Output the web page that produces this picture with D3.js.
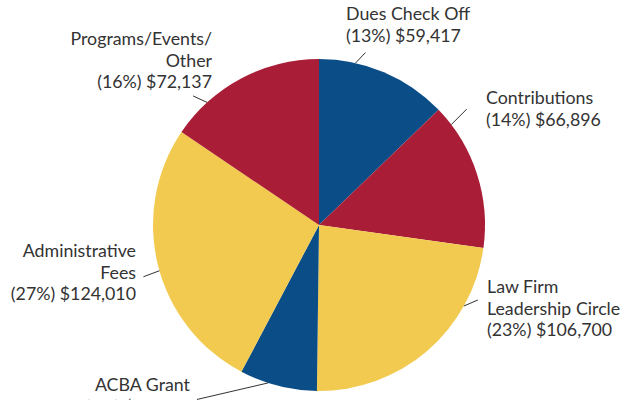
<!DOCTYPE html>
<html>
<head>
<meta charset="utf-8">
<script src="https://cdn.jsdelivr.net/npm/d3@7"></script>
<style>
  body { margin: 0; background: #fff; }
  text { font-family: Lato, "Open Sans", sans-serif; font-size: 17.8px; fill: #333; }
</style>
</head>
<body>
<div id="chart-area"></div>
<script>
// data, clockwise from 12 o'clock
const categories = ["Dues Check Off", "Contributions", "Law Firm Leadership Circle", "ACBA Grant", "Administrative Fees", "Programs/Events/Other"];
const values = [59417, 66896, 106700, 35000, 124010, 72137];
const labelLines = [
    ["Dues Check Off"],
    ["Contributions"],
    ["Law Firm", "Leadership Circle"],
    ["ACBA Grant"],
    ["Administrative", "Fees"],
    ["Programs/Events/", "Other"]
];
const colors = ["#0b4d87", "#a91e36", "#f2ca4f", "#0b4d87", "#f2ca4f", "#a91e36"];

// label layout: where the leader touches the pie (deg), leader offset, text anchor
const labelLayout = [
    {deg: 12.7,  dx: 10,  dy: -10.5, x: 346, y: 20,  anchor: "start"},
    {deg: 52.8,  dx: 15.5, dy: -15.5, x: 486, y: 104, anchor: "start"},
    {deg: 119.2, dx: 14,  dy: -6,    x: 487, y: 293, anchor: "start"},
    {deg: 197.9, dx: -71, dy: 16.5,  x: 190, y: 391, anchor: "end"},
    {deg: 254,   dx: -16, dy: 6,     x: 136, y: 257, anchor: "end"},
    {deg: 317.6, dx: -14, dy: -6.5,  x: 212, y: 45,  anchor: "end"}
];

const width = 633, height = 400,
    cx = 319, cy = 225,
    radius = 166,
    lineHeight = 21.5;

const svg = d3.select("#chart-area")
    .append("svg")
    .attr("width", width)
    .attr("height", height);

const total = d3.sum(values);
const fmt = d3.format(",");

const pie = d3.pie().sort(null).value(d => d);
const arc = d3.arc().innerRadius(0).outerRadius(radius);

const g = svg.append("g").attr("transform", `translate(${cx},${cy})`);

g.selectAll("path")
    .data(pie(values))
    .enter().append("path")
    .attr("d", arc)
    .attr("fill", (d, i) => colors[i]);

// leader lines
const rad = d => d * Math.PI / 180;
svg.selectAll("line.leader")
    .data(labelLayout)
    .enter().append("line")
    .attr("class", "leader")
    .attr("x1", d => cx + radius * Math.sin(rad(d.deg)))
    .attr("y1", d => cy - radius * Math.cos(rad(d.deg)))
    .attr("x2", d => cx + radius * Math.sin(rad(d.deg)) + d.dx)
    .attr("y2", d => cy - radius * Math.cos(rad(d.deg)) + d.dy)
    .attr("stroke", "#333")
    .attr("stroke-width", 1);

// labels
const labels = svg.selectAll("text.lbl")
    .data(categories)
    .enter().append("text")
    .attr("class", "lbl")
    .attr("text-anchor", (d, i) => labelLayout[i].anchor)
    .attr("x", (d, i) => labelLayout[i].x)
    .attr("y", (d, i) => labelLayout[i].y);

labels.each(function(d, i) {
    const t = d3.select(this);
    const lines = labelLines[i].concat(["(" + Math.round(values[i] / total * 100) + "%) $" + fmt(values[i])]);
    lines.forEach((s, j) => {
        t.append("tspan")
            .attr("x", labelLayout[i].x)
            .attr("dy", j === 0 ? 0 : lineHeight)
            .text(s);
    });
});
</script>
</body>
</html>
